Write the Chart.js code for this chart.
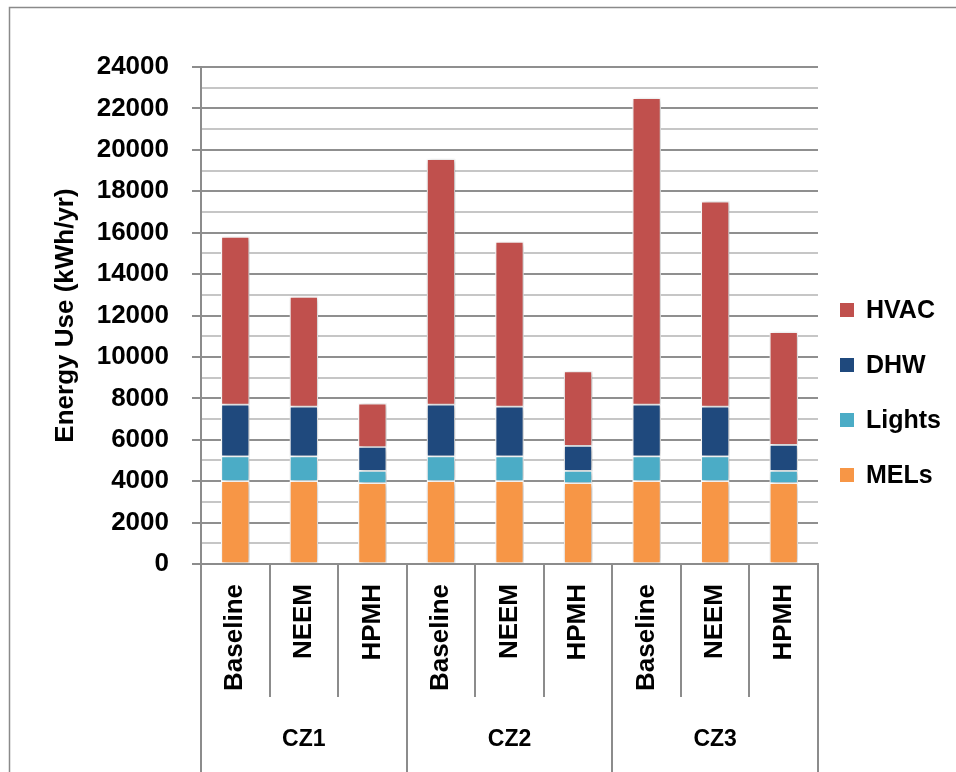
<!DOCTYPE html>
<html>
<head>
<meta charset="utf-8">
<script src="https://cdn.jsdelivr.net/npm/chart.js@4.4.0/dist/chart.umd.min.js"></script>
<style>
    html, body { margin: 0; padding: 0; background: #fff; }
    #wrap { position: relative; width: 956px; height: 772px; }
</style>
</head>
<body>
<div id="wrap"><canvas id="myChart" width="956" height="772"></canvas></div>
<script>
// data
const scenarios = ["Baseline", "NEEM", "HPMH", "Baseline", "NEEM", "HPMH", "Baseline", "NEEM", "HPMH"];
const zones = ["CZ1", "CZ2", "CZ3"];
const mels = [4000, 4000, 3900, 4000, 4000, 3900, 4000, 4000, 3900];
const lights = [1200, 1200, 600, 1200, 1200, 600, 1200, 1200, 600];
const dhw = [2500, 2400, 1150, 2500, 2400, 1200, 2500, 2400, 1250];
const hvac = [8100, 5300, 2100, 11850, 7950, 3600, 14800, 9900, 5450];
const yTicks = [0, 2000, 4000, 6000, 8000, 10000, 12000, 14000, 16000, 18000, 20000, 22000, 24000];

const FONT = "'Liberation Sans', Arial, sans-serif";
const AXIS_GREY = "#8c8c8c";

// bar shadow + extra drawing (category labels, groups, legend, frame)
const extras = {
    id: "extras",
    beforeDatasetsDraw(chart) {
        const ctx = chart.ctx;
        ctx.save();
        ctx.shadowColor = "rgba(0,0,0,0.3)";
        ctx.shadowBlur = 5;
        ctx.shadowOffsetX = 1.5;
        ctx.shadowOffsetY = 1;
    },
    afterDatasetsDraw(chart) {
        chart.ctx.restore();
    },
    afterDraw(chart) {
        const ctx = chart.ctx;
        const x = chart.scales.x;
        const area = chart.chartArea;
        const step = (area.right - area.left) / scenarios.length;
        const bottom = chart.height;

        ctx.save();
        // vertical separators below the axis
        ctx.strokeStyle = AXIS_GREY;
        ctx.lineWidth = 2;
        for (let i = 0; i <= scenarios.length; i++) {
            const px = Math.round(area.left + i * step);
            const isGroup = i % 3 === 0;
            ctx.beginPath();
            ctx.moveTo(px, area.bottom);
            ctx.lineTo(px, isGroup ? bottom : area.bottom + 133);
            ctx.stroke();
        }

        // rotated scenario labels
        ctx.fillStyle = "#000";
        ctx.font = "bold 26px " + FONT;
        ctx.textAlign = "right";
        ctx.textBaseline = "middle";
        scenarios.forEach(function(label, i) {
            const px = x.getPixelForValue(i);
            ctx.save();
            ctx.translate(px, area.bottom + 20);
            ctx.rotate(-Math.PI / 2);
            ctx.fillText(label, 0, 0);
            ctx.restore();
        });

        // climate zone labels
        ctx.font = "bold 23px " + FONT;
        ctx.textAlign = "center";
        zones.forEach(function(z, g) {
            const cx = (x.getPixelForValue(g * 3) + x.getPixelForValue(g * 3 + 2)) / 2;
            ctx.fillText(z, cx, area.bottom + 176);
        });

        // legend, reversed like the original
        const items = chart.data.datasets.slice().reverse();
        ctx.font = "bold 25px " + FONT;
        ctx.textAlign = "left";
        items.forEach(function(ds, i) {
            const cy = 310 + i * 55;
            ctx.fillStyle = ds.backgroundColor;
            ctx.fillRect(840, cy - 7, 14, 14);
            ctx.fillStyle = "#000";
            ctx.fillText(ds.label, 866, cy + 1);
        });

        // outer frame (top and left edges visible)
        ctx.strokeStyle = "#8a8a8a";
        ctx.lineWidth = 1.5;
        ctx.beginPath();
        ctx.moveTo(9.5, chart.height);
        ctx.lineTo(9.5, 7.5);
        ctx.lineTo(chart.width, 7.5);
        ctx.stroke();
        ctx.restore();
    }
};

function makeSet(label, data, color) {
    return {
        label: label,
        data: data,
        backgroundColor: color,
        borderColor: "#ffffff",
        borderWidth: 1.2,
        borderSkipped: false,
        barThickness: 28
    };
}

const ctx = document.getElementById("myChart").getContext("2d");
const myChart = new Chart(ctx, {
    type: "bar",
    data: {
        labels: scenarios,
        datasets: [
            makeSet("MELs", mels, "#F79646"),
            makeSet("Lights", lights, "#4BACC6"),
            makeSet("DHW", dhw, "#1F497D"),
            makeSet("HVAC", hvac, "#C0504D")
        ]
    },
    options: {
        responsive: false,
        animation: false,
        layout: { padding: { top: 67, right: 138, left: 0, bottom: 0 } },
        plugins: {
            legend: { display: false },
            tooltip: { enabled: false }
        },
        scales: {
            x: {
                stacked: true,
                ticks: { display: false },
                grid: { display: false },
                border: { display: true, color: AXIS_GREY, width: 2 },
                afterFit: function(scale) { scale.height = 208; }
            },
            y: {
                stacked: true,
                min: 0,
                max: 24000,
                afterFit: function(scale) { scale.width = 201; },
                afterBuildTicks: function(scale) {
                    const t = [];
                    for (let v = 0; v <= 24000; v += 1000) t.push({ value: v });
                    scale.ticks = t;
                },
                ticks: {
                    autoSkip: false,
                    padding: 23,
                    color: "#000",
                    font: { family: FONT, size: 26, weight: "bold" },
                    callback: function(v) { return yTicks.includes(v) ? String(v) : ""; }
                },
                grid: {
                    lineWidth: 2,
                    tickLength: 9,
                    color: function(c) { return c.tick && c.tick.value % 2000 === 0 ? "#8f8f8f" : "#c6c6c6"; },
                    tickColor: function(c) { return c.tick && c.tick.value % 2000 === 0 ? AXIS_GREY : "rgba(0,0,0,0)"; }
                },
                border: { display: true, color: AXIS_GREY, width: 2 },
                title: {
                    display: true,
                    text: "Energy Use (kWh/yr)",
                    color: "#000",
                    font: { family: FONT, size: 26, weight: "bold" },
                    padding: { top: 50, bottom: 0 }
                }
            }
        }
    },
    plugins: [extras]
});
</script>
</body>
</html>
